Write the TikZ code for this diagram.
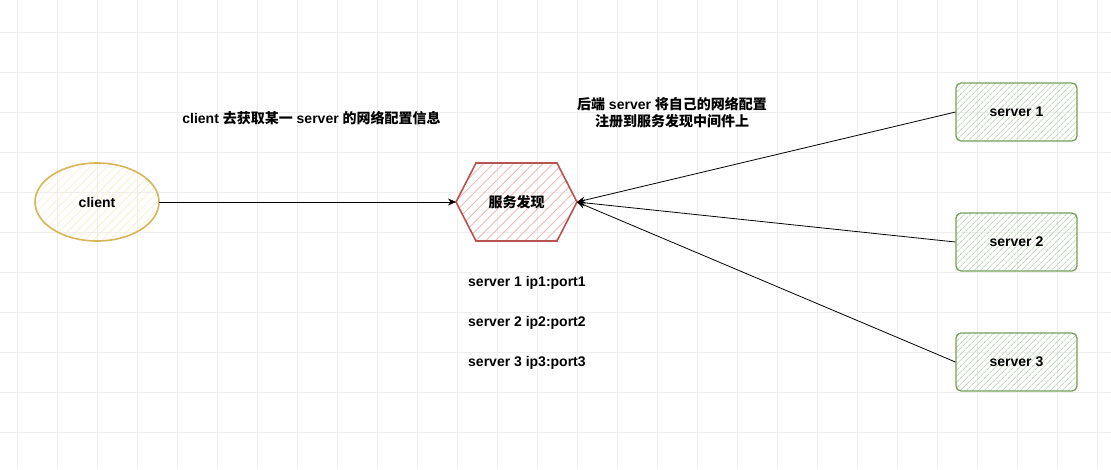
\documentclass[tikz,border=0pt]{standalone}
\usepackage{fontspec}
\setmainfont{Liberation Sans}
\newfontfamily\cjk{Noto Sans CJK SC}
\usetikzlibrary{arrows.meta,shapes.geometric,patterns.meta}
\definecolor{gridc}{HTML}{EEEEEE}
\definecolor{yfill}{HTML}{FFF2CC}
\definecolor{ystroke}{HTML}{D6B656}
\definecolor{rfill}{HTML}{F8CECC}
\definecolor{rstroke}{HTML}{B85450}
\definecolor{gfill}{HTML}{D5E8D4}
\definecolor{gstroke}{HTML}{82B366}
\tikzset{
  lbl/.style={font=\fontsize{14}{17}\selectfont\bfseries, inner sep=0pt},
  clientshape/.style={ellipse, draw=ystroke, line width=1.6pt, minimum width=124pt, minimum height=78pt, inner sep=0pt,
    pattern={Lines[angle=45,distance=6pt,line width=0.8pt]}, pattern color=yfill!80!ystroke!60, font=\fontsize{14}{17}\selectfont\bfseries},
  serverbox/.style={draw=gstroke!90!black, line width=1.3pt, rounded corners=5pt, minimum width=121pt, minimum height=58pt, inner sep=0pt,
    pattern={Lines[angle=45,distance=4pt,line width=1pt]}, pattern color=gfill!80!gstroke, font=\fontsize{14}{17}\selectfont\bfseries},
  conn/.style={line width=0.8pt, -{Stealth[length=8pt,width=7pt]}}
}
\begin{document}
\begin{tikzpicture}[x=1pt,y=-1pt]
\useasboundingbox (0,0) rectangle (1111,469);
\fill[white] (0,0) rectangle (1111,469);
\foreach \gx in {17,57,...,1111} \draw[gridc, line width=0.8pt] (\gx,0) -- (\gx,469);
\foreach \gy in {32,72,...,469} \draw[gridc, line width=0.8pt] (0,\gy) -- (1111,\gy);

\node[clientshape] (client) at (97,202) {client};
\draw[rstroke, line width=1.6pt, pattern={Lines[angle=45,distance=7pt,line width=0.9pt]}, pattern color=rfill!85!rstroke]
  (456,202) -- (476,163) -- (557,163) -- (577,202) -- (557,241) -- (476,241) -- cycle;
\coordinate (hexL) at (456,202);
\coordinate (hexR) at (577,202);
\node[lbl] (disc) at (516.5,202) {\cjk 服务发现};

\node[serverbox] (s1) at (1016.5,112) {server 1};
\node[serverbox] (s2) at (1016.5,242) {server 2};
\node[serverbox] (s3) at (1016.5,362) {server 3};

\draw[conn] (client.east) -- (hexL);
\draw[conn] (s1.west) -- (hexR);
\draw[conn] (s2.west) -- (hexR);
\draw[conn] (s3.west) -- (hexR);

\node[lbl] (t1) at (311.5,118) {client {\cjk 去获取某一} server {\cjk 的网络配置信息}};
\node[lbl, align=center] (t2) at (672,113) {{\cjk 后端} server {\cjk 将自己的网络配置}\\{\cjk 注册到服务发现中间件上}};

\node[lbl, anchor=west] (i1) at (468,283) {server 1 ip1:port1};
\node[lbl, anchor=west] (i2) at (468,323) {server 2 ip2:port2};
\node[lbl, anchor=west] (i3) at (468,363) {server 3 ip3:port3};
\end{tikzpicture}
\end{document}
